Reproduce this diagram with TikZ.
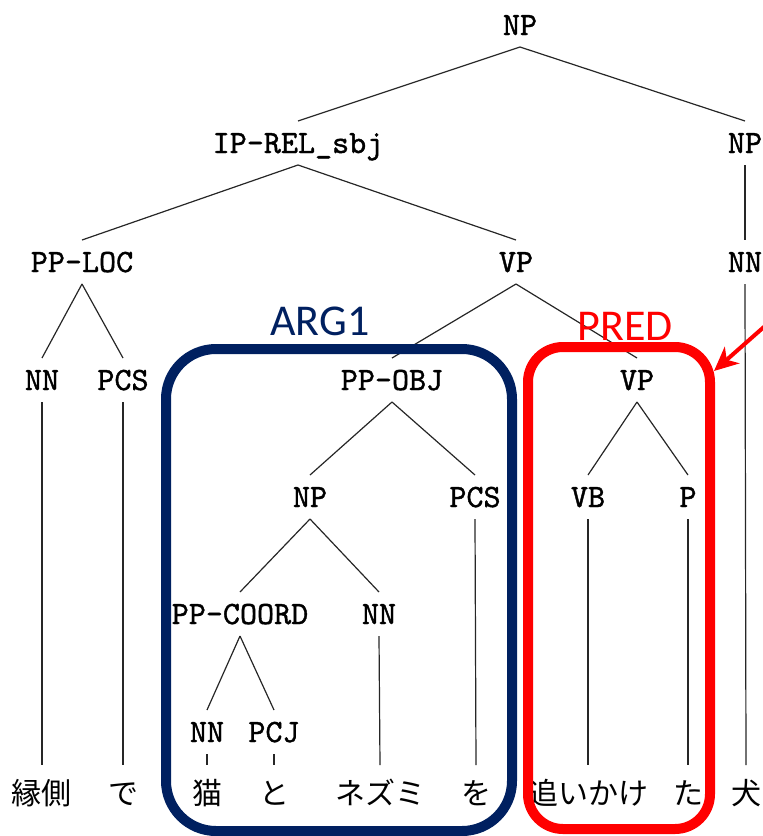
\documentclass[tikz,border=0pt]{standalone}
\usepackage{fontspec}
\newfontfamily\jpfont{Noto Sans CJK JP}
\newfontfamily\labelfont{Carlito}
\newfontfamily\catfont{lmmono10-regular.otf}[FakeBold=1.2]
\usetikzlibrary{arrows.meta}
\definecolor{argblue}{RGB}{0,32,96}
\definecolor{predred}{RGB}{255,0,0}

\begin{document}
\begin{tikzpicture}[x=1pt,y=-1pt,
  cat/.style={font=\fontsize{32.5}{32.5}\selectfont\catfont, text height=20pt, text depth=0pt,
              inner xsep=2pt, inner ysep=12pt, outer sep=0pt},
  word/.style={font=\fontsize{30}{30}\selectfont\jpfont, anchor=base, text height=24pt,
               text depth=0pt, inner ysep=15pt, inner xsep=0pt, outer sep=0pt},
  branch/.style={line width=1.2pt, black!85},
  spanbox/.style={line width=10pt, rounded corners=#1},
  boxlabel/.style={font=\fontsize{44}{44}\selectfont\labelfont, anchor=base, inner sep=0pt},
  ]
\useasboundingbox (0,0) rectangle (763,836);
\clip (0,0) rectangle (763,836);

% category labels of the tree
\node[cat] (np)      at (520,25)  {NP};
\node[cat] (iprel)   at (298,143) {IP-REL\_sbj};
\node[cat] (npr)     at (745,143) {NP};
\node[cat] (pploc)   at (82,262)  {PP-LOC};
\node[cat] (vp)      at (516,262) {VP};
\node[cat] (nnr)     at (745,262) {NN};
\node[cat] (nna)     at (42,380)  {NN};
\node[cat] (pcsa)    at (123,380) {PCS};
\node[cat] (ppobj)   at (392,380) {PP-OBJ};
\node[cat] (vpp)     at (637,380) {VP};
\node[cat] (npo)     at (310,497) {NP};
\node[cat] (pcsb)    at (475,497) {PCS};
\node[cat] (vb)      at (588,497) {VB};
\node[cat] (pp)      at (688,497) {P};
\node[cat] (ppcoord) at (240,614) {PP-COORD};
\node[cat] (nnb)     at (379,614) {NN};
\node[cat] (nnc)     at (207,732) {NN};
\node[cat] (pcj)     at (274,732) {PCJ};

% words
\node[word] (w1) at (42,804)  {縁側};
\node[word] (w2) at (123,804) {で};
\node[word] (w3) at (207,804) {猫};
\node[word] (w4) at (274,804) {と};
\node[word] (w5) at (380,804) {ネズミ};
\node[word] (w6) at (476,804) {を};
\node[word] (w7) at (588,804) {追いかけ};
\node[word] (w8) at (688,804) {た};
\node[word] (w9) at (746,804) {犬};

% branches
\foreach \p/\c in {np/iprel, np/npr, iprel/pploc, iprel/vp, npr/nnr,
                   pploc/nna, pploc/pcsa, vp/ppobj, vp/vpp,
                   ppobj/npo, ppobj/pcsb, vpp/vb, vpp/pp,
                   npo/ppcoord, npo/nnb, ppcoord/nnc, ppcoord/pcj,
                   nnr/w9, nna/w1, pcsa/w2, nnc/w3, pcj/w4, nnb/w5,
                   pcsb/w6, vb/w7, pp/w8}
  \draw[branch] (\p.south) -- (\c.north);

% argument and predicate groupings
\node[boxlabel, text=argblue] (arglabel)  at (320,335) {ARG1};
\node[boxlabel, text=predred] (predlabel) at (625,340) {PRED};
\draw[spanbox=50pt, argblue] (166,349) rectangle (512,831);
\draw[spanbox=35pt, predred] (528,347) rectangle (710,829);

% pointer into the predicate box
\coordinate (arrowtail) at (782,311);
\coordinate (arrowtip)  at (714,371);
\draw[predred, line width=4pt, -{Stealth[length=24pt, width=22pt, inset=7pt]}]
  (arrowtail) -- (arrowtip);
\end{tikzpicture}
\end{document}
